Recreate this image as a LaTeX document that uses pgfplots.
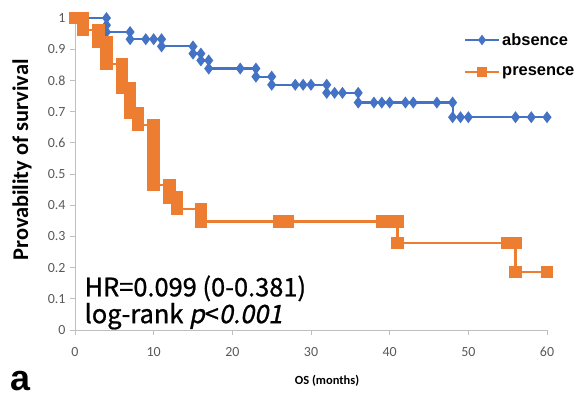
\documentclass[border=0pt]{standalone}
\usepackage{fontspec}
\usepackage{pgfplots}
\pgfplotsset{compat=1.18}
\setmainfont{Carlito}
\newfontfamily\carlito{Carlito}
\newfontfamily\arial{Liberation Sans}
\newfontfamily\jp[FakeBold=0.9, AutoFakeSlant=0.2]{Noto Sans CJK JP}
\definecolor{cblue}{HTML}{4472C4}
\definecolor{corange}{HTML}{ED7D31}
\definecolor{axgray}{HTML}{BFBFBF}
\definecolor{lblgray}{HTML}{595959}
\begin{document}
\begin{tikzpicture}
\path[use as bounding box] (-75bp,-69bp) rectangle (505bp,330bp);
\begin{axis}[
  at={(0,0)}, anchor=origin,
  scale only axis, width=472bp, height=312bp,
  xmin=0, xmax=60, ymin=0, ymax=1,
  axis lines*=left,
  axis line style={axgray, line width=0.8bp},
  xtick={0,10,...,60},
  ytick={0,0.1,...,1.0},
  tick align=outside,
  major tick length=5bp,
  tick style={axgray, line width=0.8bp},
  /pgf/number format/assume math mode=true,
  tick label style={font=\carlito\fontsize{14}{14}\selectfont, text=lblgray},
  xticklabel style={yshift=-9bp},
  yticklabel style={xshift=-1bp},
  xlabel={\textbf{OS (months)}},
  xlabel style={font=\carlito\fontsize{12.5}{13}\selectfont, at={(axis description cs:0.534,0)}, anchor=center, yshift=-51bp},
  ylabel={\textbf{Provability of survival}},
  ylabel style={font=\carlito\fontsize{22.5}{22.5}\selectfont, at={(axis description cs:-0.112,0.545)}, anchor=center},
  legend style={at={(axis cs:49.4,0.958)}, anchor=north west, draw=none, fill=none,
    font=\arial\bfseries\fontsize{16.5}{16.5}\selectfont, row sep=16bp, inner sep=0pt, cells={anchor=west}},
  legend image code/.code={\draw[#1, mark repeat=2, mark phase=2, mark size=3.5bp] plot coordinates {(0bp,0bp) (17bp,0bp) (34bp,0bp)};},
  clip=false,
]
\addplot[cblue, line width=2.2bp, mark=diamond*, mark size=4.2bp, mark options={solid, fill=cblue}] coordinates {
(0,1) (4,1) (4,0.977) (4,0.955) (7,0.955) (7,0.932) (9,0.932) (10,0.932) (11,0.932) (11,0.909)
(15,0.909) (15,0.886) (16,0.886) (16,0.864) (17,0.864) (17,0.838) (21,0.838) (23,0.838) (23,0.812)
(25,0.812) (25,0.786) (28,0.786) (29,0.786) (30,0.786) (32,0.786) (32,0.76) (33,0.76) (34,0.76)
(36,0.76) (36,0.729) (38,0.729) (39,0.729) (40,0.729) (42,0.729) (43,0.729) (46,0.729) (48,0.729)
(48,0.682) (49,0.682) (50,0.682) (56,0.682) (58,0.682) (60,0.682)
};
\addlegendentry{absence}
\addplot[corange, line width=2.4bp, mark=square*, mark size=5bp, mark options={solid, fill=corange}] coordinates {
(0,1) (1,1) (1,0.962) (3,0.962) (3,0.924) (4,0.924) (4,0.889) (4,0.852) (6,0.852) (6,0.813)
(6,0.776) (7,0.776) (7,0.736) (7,0.696) (8,0.696) (8,0.657) (10,0.657) (10,0.618) (10,0.58)
(10,0.541) (10,0.503) (10,0.465) (12,0.465) (12,0.425) (13,0.425) (13,0.387) (16,0.387) (16,0.348)
(26,0.348) (27,0.348) (39,0.348) (40,0.348) (41,0.348) (41,0.278) (55,0.278) (56,0.278) (56,0.186) (60,0.186)
};
\addlegendentry{presence}
\node[anchor=base west, inner sep=0pt, font=\jp\fontsize{25.5}{25.5}\selectfont] at (axis cs:1.2,0.108) {HR=0.099 (0-0.381)};
\node[anchor=base west, inner sep=0pt, font=\jp\fontsize{25.5}{25.5}\selectfont] at (axis cs:1.2,0.022) {log-rank \textit{p}<\textit{0.001}};
\node[anchor=center, inner sep=0pt, font=\arial\bfseries\fontsize{36}{36}\selectfont] at (axis description cs:-0.116,-0.165) {a};
\end{axis}
\end{tikzpicture}
\end{document}
